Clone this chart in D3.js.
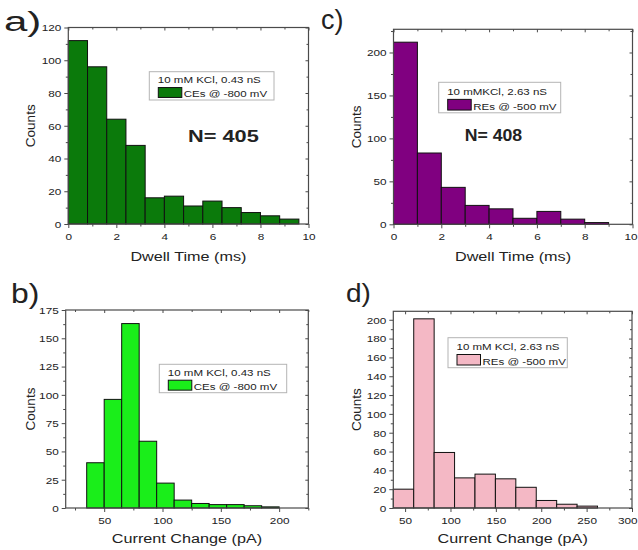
<!DOCTYPE html>
<html>
<head>
<meta charset="utf-8">
<script src="https://cdn.jsdelivr.net/npm/d3@7"></script>
<style>
  body { margin: 0; background: #fff; }
  svg { display: block; }
  text { font-family: "Liberation Sans", Arial, sans-serif; fill: #222; }
</style>
</head>
<body>
<svg id="fig" width="638" height="550"></svg>
<script>
// ---- histogram data -------------------------------------------------------
// a) dwell time of CEs, bins of 0.8 ms starting at 0
const ceDwellCounts = [112, 96, 64, 48, 16, 17, 11, 14, 10, 7, 5, 3];
const ceDwellBinStart = 0, ceDwellBinWidth = 0.8;
// c) dwell time of REs, bins of 1 ms starting at 0
const reDwellCounts = [212, 83, 43, 22, 18, 7, 15, 6, 2];
const reDwellBinStart = 0, reDwellBinWidth = 1;
// b) current change of CEs, bins of 15 pA starting at 35 pA
const ceCurrentCounts = [40, 96, 163, 59, 22, 7, 4, 3, 3, 2, 1];
const ceCurrentBinStart = 35, ceCurrentBinWidth = 15;
// d) current change of REs, bins of 22.5 pA starting at 37 pA
const reCurrentCounts = [20, 201, 59, 32, 36, 31, 22, 8, 4, 2];
const reCurrentBinStart = 37, reCurrentBinWidth = 22.5;

// ---- tick labels ----------------------------------------------------------
const dwellTicks = [0, 2, 4, 6, 8, 10];
const ceDwellCountTicks = [0, 20, 40, 60, 80, 100, 120];
const reDwellCountTicks = [0, 50, 100, 150, 200];
const ceCurrentTicks = [50, 100, 150, 200];
const ceCurrentCountTicks = [0, 25, 50, 75, 100, 125, 150, 175];
const reCurrentTicks = [50, 100, 150, 200, 250, 300];
const reCurrentCountTicks = [0, 20, 40, 60, 80, 100, 120, 140, 160, 180, 200];

// ---- text -----------------------------------------------------------------
const panelLetters = ["a)", "b)", "c)", "d)"];
const legendTitles = ["10 mM KCl, 0.43 nS", "10 mM KCl, 0.43 nS", "10 mMKCl, 2.63 nS", "10 mM KCl, 2.63 nS"];
const legendSeries = ["CEs @ -800 mV", "CEs @ -800 mV", "REs @ -500 mV", "REs @ -500 mV"];
const eventTotals = ["N= 405", null, "N= 408", null];
const dwellTitle = "Dwell Time (ms)";
const currentTitle = "Current Change (pA)";
const countsTitle = "Counts";

// ---- panels ---------------------------------------------------------------
const panels = [
  { letter: panelLetters[0], counts: ceDwellCounts, start: ceDwellBinStart, width: ceDwellBinWidth,
    xTicks: dwellTicks, yTicks: ceDwellCountTicks, xDomain: [0, 10], yDomain: [0, 120],
    xTitle: dwellTitle, legendTitle: legendTitles[0], legendSeries: legendSeries[0], total: eventTotals[0],
    fill: "#0b7a0b",
    box: { l: 68.3, r: 308.5, t: 27.5, b: 224 },
    letterPos: { x: 4, y: 30.5, size: 28, sx: 1.5 },
    legend: { x: 149.3, y: 71.7, w: 124.7, h: 28.3 },
    totalPos: { x: 188, y: 141.7, size: 17, sx: 1.28 },
    xTitleY: 261, yTitleX: 35 },
  { letter: panelLetters[1], counts: ceCurrentCounts, start: ceCurrentBinStart, width: ceCurrentBinWidth,
    xTicks: ceCurrentTicks, yTicks: ceCurrentCountTicks, xDomain: [17, 225], yDomain: [0, 175],
    xTitle: currentTitle, legendTitle: legendTitles[1], legendSeries: legendSeries[1], total: eventTotals[1],
    fill: "#1aee1a",
    box: { l: 65.7, r: 308.3, t: 310, b: 508 },
    letterPos: { x: 11, y: 303.3, size: 27, sx: 1.18 },
    legend: { x: 159.3, y: 364.3, w: 127.4, h: 28.4 },
    xTitleY: 543, yTitleX: 35 },
  { letter: panelLetters[2], counts: reDwellCounts, start: reDwellBinStart, width: reDwellBinWidth,
    xTicks: dwellTicks, yTicks: reDwellCountTicks, xDomain: [0, 10], yDomain: [0, 227],
    xTitle: dwellTitle, legendTitle: legendTitles[2], legendSeries: legendSeries[2], total: eventTotals[2],
    fill: "#800080",
    box: { l: 393.5, r: 632.5, t: 29.3, b: 224.3 },
    letterPos: { x: 321, y: 29.3, size: 27, sx: 1.0 },
    legend: { x: 438.7, y: 82.3, w: 122, h: 30.5 },
    totalPos: { x: 464.7, y: 140.7, size: 17, sx: 1.04 },
    xTitleY: 261, yTitleX: 361 },
  { letter: panelLetters[3], counts: reCurrentCounts, start: reCurrentBinStart, width: reCurrentBinWidth,
    xTicks: reCurrentTicks, yTicks: reCurrentCountTicks, xDomain: [37, 300], yDomain: [0, 209],
    xTitle: currentTitle, legendTitle: legendTitles[3], legendSeries: legendSeries[3], total: eventTotals[3],
    fill: "#f4b8c5",
    box: { l: 393.3, r: 632, t: 311.3, b: 508 },
    letterPos: { x: 346, y: 301.7, size: 25, sx: 1.12 },
    legend: { x: 448, y: 337.7, w: 119.3, h: 30 },
    xTitleY: 543, yTitleX: 361 }
];

const SX = 1.2;          // horizontal text stretch used throughout the figure
const PAGE_W = 638;
const frameColor = "#4a4a4a";
const svg = d3.select("#fig");

// horizontally stretched text anchored at (x, y)
function stext(g, x, y, str, size, anchor, sx, weight) {
  return g.append("text")
    .attr("transform", `translate(${x},${y}) scale(${sx},1)`)
    .attr("text-anchor", anchor)
    .attr("font-size", size)
    .attr("font-weight", weight || "normal")
    .text(str);
}

// tick positions half-way between labelled ticks (and beyond, within the domain)
function minorTicks(major, domain) {
  const step = major[1] - major[0];
  const lo = Math.min(domain[0], domain[1]), hi = Math.max(domain[0], domain[1]);
  const out = [];
  for (let v = major[0] - step / 2; v <= hi + 1e-9; v += step) if (v >= lo - 1e-9) out.push(v);
  return out;
}

function styleAxis(g) {
  g.select(".domain").remove();
  g.selectAll(".tick line").attr("stroke", frameColor).attr("stroke-width", 1);
}

panels.forEach(p => {
  const g = svg.append("g");
  const x = d3.scaleLinear().domain(p.xDomain).range([p.box.l, p.box.r]);
  const y = d3.scaleLinear().domain(p.yDomain).range([p.box.b, p.box.t]);
  const xMinor = minorTicks(p.xTicks, p.xDomain);
  const yMinor = minorTicks(p.yTicks, p.yDomain);

  // bars
  g.append("g").selectAll("rect").data(p.counts).join("rect")
    .attr("x", (d, i) => x(p.start + i * p.width))
    .attr("width", (d, i) => x(p.start + (i + 1) * p.width) - x(p.start + i * p.width))
    .attr("y", d => y(d))
    .attr("height", d => y(0) - y(d))
    .attr("fill", p.fill)
    .attr("stroke", "#111")
    .attr("stroke-width", 1);

  // bottom axis, ticks outward
  const gb = g.append("g").attr("transform", `translate(0,${p.box.b})`)
    .call(d3.axisBottom(x).tickValues(p.xTicks).tickSize(4).tickSizeOuter(0).tickFormat(d3.format("d")));
  styleAxis(gb);
  gb.selectAll("text").attr("y", 16).attr("dy", null).attr("font-size", 9.8)
    .attr("font-family", "Liberation Sans, Arial, sans-serif").attr("fill", "#222")
    .attr("transform", `scale(${SX},1)`);
  // keep the last label inside the page
  gb.selectAll("text").each(function (d) {
    const w = this.getComputedTextLength() * SX;
    const over = x(d) + w / 2 - (PAGE_W - 1);
    if (over > 0) d3.select(this).attr("x", -over / SX);
  });
  styleAxis(g.append("g").attr("transform", `translate(0,${p.box.b})`)
    .call(d3.axisBottom(x).tickValues(xMinor).tickSize(2.5).tickSizeOuter(0).tickFormat("")));

  // left axis, ticks outward
  const gl = g.append("g").attr("transform", `translate(${p.box.l},0)`)
    .call(d3.axisLeft(y).tickValues(p.yTicks).tickSize(4).tickSizeOuter(0).tickFormat(d3.format("d")));
  styleAxis(gl);
  gl.selectAll("text").attr("x", -7 / SX).attr("dy", "0.34em").attr("font-size", 9.8)
    .attr("font-family", "Liberation Sans, Arial, sans-serif").attr("fill", "#222")
    .attr("transform", `scale(${SX},1)`);
  styleAxis(g.append("g").attr("transform", `translate(${p.box.l},0)`)
    .call(d3.axisLeft(y).tickValues(yMinor).tickSize(2.5).tickSizeOuter(0).tickFormat("")));

  // top and right axes, ticks inward, no labels
  styleAxis(g.append("g").attr("transform", `translate(0,${p.box.t})`)
    .call(d3.axisTop(x).tickValues(p.xTicks).tickSize(-3).tickSizeOuter(0).tickFormat("")));
  styleAxis(g.append("g").attr("transform", `translate(0,${p.box.t})`)
    .call(d3.axisTop(x).tickValues(xMinor).tickSize(-2).tickSizeOuter(0).tickFormat("")));
  styleAxis(g.append("g").attr("transform", `translate(${p.box.r},0)`)
    .call(d3.axisRight(y).tickValues(p.yTicks).tickSize(-3).tickSizeOuter(0).tickFormat("")));
  styleAxis(g.append("g").attr("transform", `translate(${p.box.r},0)`)
    .call(d3.axisRight(y).tickValues(yMinor).tickSize(-2).tickSizeOuter(0).tickFormat("")));

  // frame
  g.append("rect")
    .attr("x", p.box.l).attr("y", p.box.t)
    .attr("width", p.box.r - p.box.l).attr("height", p.box.b - p.box.t)
    .attr("fill", "none").attr("stroke", frameColor).attr("stroke-width", 1.2);

  // axis titles
  stext(g, (p.box.l + p.box.r) / 2, p.xTitleY, p.xTitle, 13.5, "middle", SX);
  g.append("text")
    .attr("transform", `translate(${p.yTitleX},${(p.box.t + p.box.b) / 2}) rotate(-90)`)
    .attr("text-anchor", "middle").attr("font-size", 13.5)
    .text(countsTitle);

  // legend
  const L = p.legend;
  const lg = g.append("g");
  lg.append("rect").attr("x", L.x).attr("y", L.y).attr("width", L.w).attr("height", L.h)
    .attr("fill", "#fff").attr("stroke", "#b4b4b4").attr("stroke-width", 1);
  stext(lg, L.x + 8.5, L.y + L.h * 0.4, p.legendTitle, 9.6, "start", SX);
  lg.append("rect").attr("x", L.x + 9).attr("y", L.y + L.h * 0.56)
    .attr("width", 23.5).attr("height", L.h * 0.35)
    .attr("fill", p.fill).attr("stroke", "#111").attr("stroke-width", 1);
  stext(lg, L.x + 34.5, L.y + L.h * 0.9, p.legendSeries, 9.6, "start", SX);

  // event total
  if (p.total) stext(g, p.totalPos.x, p.totalPos.y, p.total, p.totalPos.size, "start", p.totalPos.sx, "bold")
    .attr("fill", "#111");

  // panel letter
  stext(g, p.letterPos.x, p.letterPos.y, p.letter, p.letterPos.size, "start", p.letterPos.sx).attr("fill", "#111");
});
</script>
</body>
</html>
